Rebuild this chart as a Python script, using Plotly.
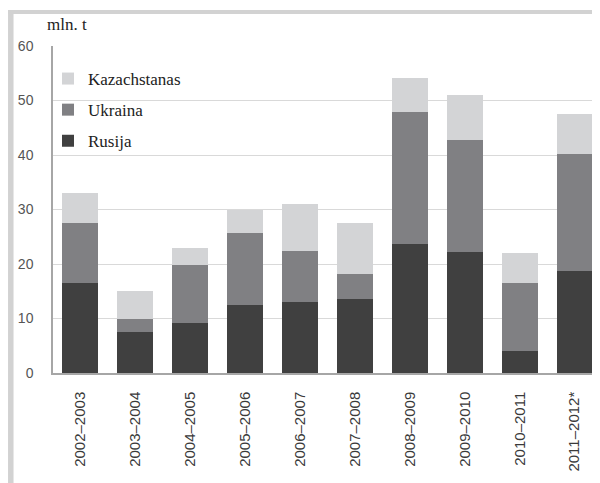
import plotly.graph_objects as go

categories = ["2002–2003", "2003–2004", "2004–2005", "2005–2006", "2006–2007",
              "2007–2008", "2008–2009", "2009–2010", "2010–2011", "2011–2012*"]
rusija = [16.6, 7.6, 9.2, 12.5, 13.1, 13.6, 23.7, 22.2, 4.0, 18.7]
ukraina = [10.9, 2.4, 10.7, 13.1, 9.3, 4.5, 24.1, 20.6, 12.6, 21.5]
kazachstanas = [5.5, 5.0, 3.1, 4.4, 8.6, 9.4, 6.3, 8.2, 5.5, 7.4]
y_ticks = [0, 10, 20, 30, 40, 50, 60]

W, H = 600, 483
OFF = 8  # page offset of the figure (body margin)
L, R, T, B = 45, 5.5, 38, 118

fig = go.Figure()
series = [("Rusija", rusija, "#404040", 3),
          ("Ukraina", ukraina, "#808083", 2),
          ("Kazachstanas", kazachstanas, "#d3d4d6", 1)]
for name, vals, col, rank in series:
    fig.add_trace(go.Bar(x=categories, y=vals, name=name, legendgroup=name,
                         legendrank=rank,
                         marker=dict(color=col, line=dict(width=0)),
                         width=0.655))

pw = W - L - R
ph = H - T - B
def px(x):  # page x -> paper
    return (x - OFF - L) / pw
def py(y):  # page y -> paper
    return (H - B - (y - OFF)) / ph

shapes = [
    dict(type="rect", xref="paper", yref="paper", x0=px(8), x1=px(13.5), y0=py(495), y1=py(10),
         fillcolor="#d2d2d2", line=dict(width=0), layer="above"),
    dict(type="rect", xref="paper", yref="paper", x0=px(8), x1=px(610), y0=py(14), y1=py(10),
         fillcolor="#d2d2d2", line=dict(width=0), layer="above"),
]

fig.update_layout(
    width=W, height=H,
    margin=dict(l=L, r=R, t=T, b=B, pad=0),
    barmode="stack",
    paper_bgcolor="white", plot_bgcolor="white",
    shapes=shapes,
    showlegend=True,
    legend=dict(x=px(48), y=py(61), xanchor="left", yanchor="top",
                traceorder="grouped", tracegroupgap=6,
                font=dict(family="Liberation Serif", size=17, color="#222222"),
                bgcolor="rgba(0,0,0,0)", itemwidth=30),
    xaxis=dict(range=[-0.5, 9.5], tickangle=-90, showgrid=False,
               showline=True, linecolor="#a6a6a6", linewidth=1.5, ticks="",
               tickfont=dict(family="Liberation Sans", size=15, color="#3a3a3a"),
               ticklabelstandoff=11, fixedrange=True),
    yaxis=dict(range=[0, 60], tickvals=y_ticks, showgrid=True, gridcolor="#d9d9d9",
               gridwidth=1.2, showline=True, linecolor="#a6a6a6", linewidth=1.5,
               ticks="", zeroline=False,
               tickfont=dict(family="Liberation Sans", size=14, color="#555555"),
               ticklabelstandoff=15, fixedrange=True),
    annotations=[dict(text="mln. t", xref="paper", yref="paper", x=px(45), y=py(24.5),
                      xanchor="left", yanchor="middle", showarrow=False,
                      font=dict(family="Liberation Serif", size=17, color="#222222"))],
)

fig.write_html("out.html")
